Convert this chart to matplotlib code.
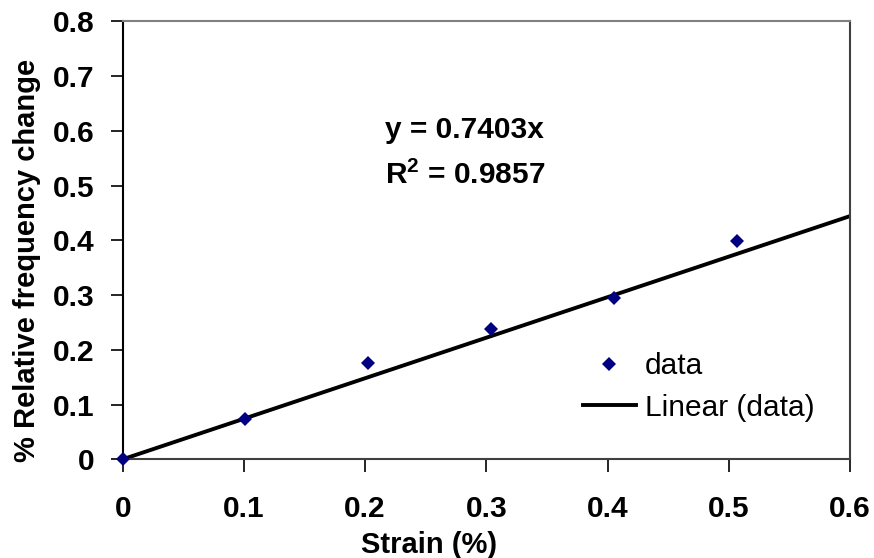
import matplotlib
matplotlib.use("Agg")
import matplotlib.pyplot as plt
import numpy as np

# Measured strain and relative frequency change
strain = [0.0, 0.101, 0.2026, 0.3039, 0.4053, 0.5066]
freq_change = [0.0, 0.0736, 0.1764, 0.238, 0.294, 0.3993]

# Linear trend through the origin
slope = 0.7403
r_squared = 0.9857
fit_x = [0.0, 0.6]

x_ticks = [0, 0.1, 0.2, 0.3, 0.4, 0.5, 0.6]
y_ticks = [0, 0.1, 0.2, 0.3, 0.4, 0.5, 0.6, 0.7, 0.8]

plt.rcParams['font.family'] = ['Liberation Sans', 'DejaVu Sans']
plt.rcParams['mathtext.fontset'] = 'custom'
plt.rcParams['mathtext.rm'] = 'Liberation Sans:bold'
plt.rcParams['mathtext.bf'] = 'Liberation Sans:bold'

FS = 21.5

fig = plt.figure(figsize=(8.74, 5.58), dpi=100)
ax = fig.add_axes([0.1404, 0.1769, 0.8321, 0.7849])

ax.plot(strain, freq_change, linestyle='none', marker='D', markersize=7.2,
        color='#000080', markeredgewidth=0, label='data', zorder=3,
        clip_on=False)
ax.plot(fit_x, [slope * v for v in fit_x], color='black', linewidth=2.8,
        label='Linear (data)', zorder=2)

ax.set_xlim(0, 0.6)
ax.set_ylim(0, 0.8)
ax.set_xticks(x_ticks)
ax.set_yticks(y_ticks)
ax.set_xticklabels([f"{v:g}" for v in x_ticks])
ax.set_yticklabels([f"{v:g}" for v in y_ticks])

for lab in ax.get_xticklabels() + ax.get_yticklabels():
    lab.set_fontweight('bold')
    lab.set_fontsize(FS)

ax.tick_params(axis='x', direction='out', length=9, width=1.2, pad=17, colors='black')
ax.tick_params(axis='y', direction='out', length=9, width=1.2, pad=11, colors='black')

ax.spines['left'].set_color('black')
ax.spines['left'].set_linewidth(1.5)
ax.spines['bottom'].set_color('#404040')
ax.spines['bottom'].set_linewidth(1.5)
ax.spines['top'].set_color('#808080')
ax.spines['top'].set_linewidth(1.5)
ax.spines['right'].set_color('#404040')
ax.spines['right'].set_linewidth(1.5)

ax.set_xlabel('Strain (%)', fontsize=FS - 0.5, fontweight='bold')
ax.set_ylabel('% Relative frequency change', fontsize=FS - 0.5, fontweight='bold')
ax.xaxis.set_label_coords(0.421, -0.163)
ax.yaxis.set_label_coords(-0.112, 0.453)

ax.text(0.2164, 0.587, f"y = {slope:.4f}x", fontsize=FS, fontweight='bold',
        ha='left', va='baseline')
ax.text(0.2164, 0.502, r"$\mathbf{R^{2}}$" + f" = {r_squared:.4f}", fontsize=FS,
        fontweight='bold', ha='left', va='baseline')

leg = ax.legend(loc='upper left', bbox_to_anchor=(0.617, 0.272), frameon=False,
                fontsize=FS, handlelength=1.75, handletextpad=0.3,
                labelspacing=0.45, borderaxespad=0)

fig.savefig('out.png', dpi=100)
